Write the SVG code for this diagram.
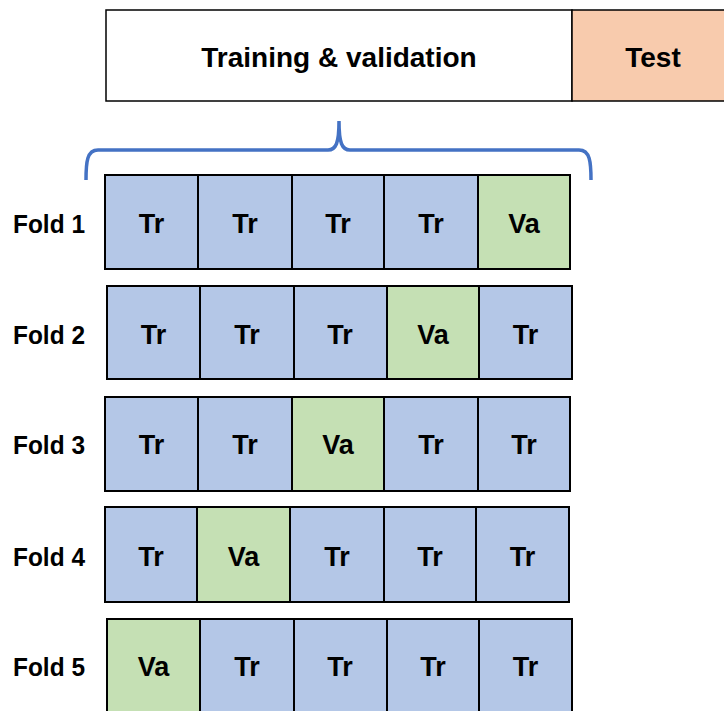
<svg xmlns="http://www.w3.org/2000/svg" width="724" height="711" viewBox="0 0 724 711">
<style>
text{font-family:"Liberation Sans",Arial,sans-serif;font-weight:bold;fill:#000;text-anchor:middle}
.c{font-size:27px}
.t{font-size:28px}
.f{font-size:26px;text-anchor:start}
.tr{fill:#B4C7E7;stroke:#000;stroke-width:2}
.va{fill:#C5E0B4;stroke:#000;stroke-width:2}
</style>
<rect width="724" height="711" fill="#fff"/>
<g id="training-validation">
<rect x="106" y="10" width="466" height="91" fill="#fff" stroke="#000" stroke-width="1.5"/>
<text class="t" x="339" y="67">Training &amp; validation</text>
</g>
<g id="test">
<rect x="572" y="10" width="160" height="91" fill="#F8CBAD" stroke="#000" stroke-width="1.5"/>
<text class="t" x="653" y="67">Test</text>
</g>
<g id="connectors">
<path d="M86,180 C86,162 87,150 98,150 L328,150 C336,150 339,143 339,121 C339,143 342,150 350,150 L579,150 C590,150 591,162 591,180" fill="none" stroke="#4472C4" stroke-width="3.5"/>
</g>
<g id="fold1">
<text class="f" x="13" y="233" textLength="72" lengthAdjust="spacingAndGlyphs">Fold 1</text>
<rect class="tr" x="105" y="175" width="93" height="94"/><text class="c" x="151.5" y="233">Tr</text>
<rect class="tr" x="198" y="175" width="94" height="94"/><text class="c" x="245" y="233">Tr</text>
<rect class="tr" x="292" y="175" width="92" height="94"/><text class="c" x="338" y="233">Tr</text>
<rect class="tr" x="384" y="175" width="94" height="94"/><text class="c" x="431" y="233">Tr</text>
<rect class="va" x="478" y="175" width="92" height="94"/><text class="c" x="524" y="233">Va</text>
</g>
<g id="fold2">
<text class="f" x="13" y="344" textLength="72" lengthAdjust="spacingAndGlyphs">Fold 2</text>
<rect class="tr" x="107" y="286" width="93" height="93"/><text class="c" x="153.5" y="344">Tr</text>
<rect class="tr" x="200" y="286" width="94" height="93"/><text class="c" x="247" y="344">Tr</text>
<rect class="tr" x="294" y="286" width="93" height="93"/><text class="c" x="340" y="344">Tr</text>
<rect class="va" x="387" y="286" width="92" height="93"/><text class="c" x="433" y="344">Va</text>
<rect class="tr" x="479" y="286" width="93" height="93"/><text class="c" x="525.5" y="344">Tr</text>
</g>
<g id="fold3">
<text class="f" x="13" y="454" textLength="72" lengthAdjust="spacingAndGlyphs">Fold 3</text>
<rect class="tr" x="105" y="397" width="93" height="94"/><text class="c" x="151.5" y="454">Tr</text>
<rect class="tr" x="198" y="397" width="94" height="94"/><text class="c" x="245" y="454">Tr</text>
<rect class="va" x="292" y="397" width="92" height="94"/><text class="c" x="338" y="454">Va</text>
<rect class="tr" x="384" y="397" width="94" height="94"/><text class="c" x="431" y="454">Tr</text>
<rect class="tr" x="478" y="397" width="92" height="94"/><text class="c" x="524" y="454">Tr</text>
</g>
<g id="fold4">
<text class="f" x="13" y="566" textLength="72" lengthAdjust="spacingAndGlyphs">Fold 4</text>
<rect class="tr" x="105" y="507" width="92" height="95"/><text class="c" x="151" y="566">Tr</text>
<rect class="va" x="197" y="507" width="93" height="95"/><text class="c" x="243.5" y="566">Va</text>
<rect class="tr" x="290" y="507" width="94" height="95"/><text class="c" x="337" y="566">Tr</text>
<rect class="tr" x="384" y="507" width="92" height="95"/><text class="c" x="430" y="566">Tr</text>
<rect class="tr" x="476" y="507" width="93" height="95"/><text class="c" x="522.5" y="566">Tr</text>
</g>
<g id="fold5">
<text class="f" x="13" y="676" textLength="72" lengthAdjust="spacingAndGlyphs">Fold 5</text>
<rect class="va" x="107" y="619" width="93" height="96"/><text class="c" x="153.5" y="676">Va</text>
<rect class="tr" x="200" y="619" width="94" height="96"/><text class="c" x="247" y="676">Tr</text>
<rect class="tr" x="294" y="619" width="93" height="96"/><text class="c" x="340" y="676">Tr</text>
<rect class="tr" x="387" y="619" width="92" height="96"/><text class="c" x="433" y="676">Tr</text>
<rect class="tr" x="479" y="619" width="93" height="96"/><text class="c" x="525.5" y="676">Tr</text>
</g>
</svg>
